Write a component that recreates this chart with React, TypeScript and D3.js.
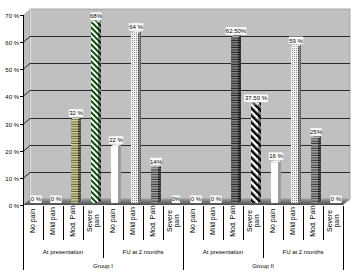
import React from 'react';
import * as d3 from 'd3';

const painLevels = ['No pain', 'Mild pain', 'Mod. Pain', 'Severe pain'];
const timepoints = ['At presentation', 'FU at 2 months'];
const groups = ['Group I', 'Group II'];
const groupIPresentation = [0, 0, 32, 68];
const groupIFollowUp = [22, 64, 14, 0];
const groupIIPresentation = [0, 0, 62.5, 37.5];
const groupIIFollowUp = [16, 59, 25, 0];
const valueLabels = ['0 %', '0 %', '32 %', '68%', '22 %', '64 %', '14%', '0%', '0 %', '0 %', '62.50%', '37.50 %', '16 %', '59 %', '25%', '0 %'];
const yTicks = [0, 10, 20, 30, 40, 50, 60, 70];
const yTickLabels = ['0 %', '10 %', '20 %', '30 %', '40 %', '50 %', '60 %', '70 %'];

// fill style for each series (by pain level)
const seriesFills = [
  ['none', 'none', 'olive', 'green'],
  ['white', 'dots', 'gray', 'none'],
  ['none', 'none', 'dark', 'black'],
  ['white', 'dots', 'gray', 'none'],
];

const W = 356, H = 272;
const X0 = 23, X1 = 343;
const DX = 7, DY = -6;
const FLOOR_Y = 205;

export default function App() {
  const series = [groupIPresentation, groupIFollowUp, groupIIPresentation, groupIIFollowUp];
  const values = series.flat();
  const fills = seriesFills.flat();
  const idx = d3.range(values.length);
  const x = d3.scaleBand<number>().domain(idx).range([X0, X1]);
  const yF = d3.scaleLinear().domain([0, 70]).range([FLOOR_Y, 15]);
  const yBar = d3.scaleLinear().domain([0, 70]).range([205.5, 17]);
  const bw = x.bandwidth();
  const font = 'Liberation Sans, Arial, sans-serif';

  const catLabels = groups.flatMap(() => timepoints.flatMap(() => painLevels));

  return (
    <svg width={W} height={H} style={{ position: 'absolute', left: 0, top: 0, background: '#fff' }} fontFamily={font}>
      <defs>
        <pattern id="olive" patternUnits="userSpaceOnUse" width="4" height="2.4">
          <rect width="4" height="2.4" fill="#d6d6a4" />
          <rect y="1.4" width="4" height="1" fill="#5a5a30" />
        </pattern>
        <pattern id="green" patternUnits="userSpaceOnUse" width="4" height="4" patternTransform="rotate(-45)">
          <rect width="4" height="4" fill="#ffffff" />
          <rect width="2" height="4" fill="#0b4a0b" />
        </pattern>
        <pattern id="black" patternUnits="userSpaceOnUse" width="5" height="5" patternTransform="rotate(-45)">
          <rect width="5" height="5" fill="#ffffff" />
          <rect width="2.5" height="5" fill="#000000" />
        </pattern>
        <pattern id="dots" patternUnits="userSpaceOnUse" width="2" height="2">
          <rect width="2" height="2" fill="#f4f4f4" />
          <rect width="1" height="1" fill="#8a8a8a" />
        </pattern>
        <pattern id="gray" patternUnits="userSpaceOnUse" width="4" height="2.4">
          <rect width="4" height="2.4" fill="#a8a8a8" />
          <rect y="1.4" width="4" height="1" fill="#303030" />
        </pattern>
        <pattern id="dark" patternUnits="userSpaceOnUse" width="4" height="2.4">
          <rect width="4" height="2.4" fill="#8a8a8a" />
          <rect y="1.4" width="4" height="1" fill="#202020" />
        </pattern>
        <pattern id="white" patternUnits="userSpaceOnUse" width="4" height="4">
          <rect width="4" height="4" fill="#ffffff" />
        </pattern>
        <linearGradient id="floorGrad" x1="0" y1="0" x2="0" y2="1">
          <stop offset="0" stopColor="#9a9a9a" />
          <stop offset="1" stopColor="#4a4a4a" />
        </linearGradient>
      </defs>

      {/* side wall */}
      <polygon points={`${X0},${yF(70)} ${X0 + DX},${yF(70) + DY} ${X0 + DX},${FLOOR_Y + DY} ${X0},${FLOOR_Y}`} fill="#bdbdbd" />
      {/* back wall */}
      <rect x={X0 + DX} y={yF(70) + DY} width={X1 + DX - (X0 + DX)} height={FLOOR_Y - yF(70)} fill="#c0c0c0" stroke="#9a9a9a" strokeWidth={0.8} />
      <line x1={X0 + DX + 0.5} x2={X0 + DX + 0.5} y1={yF(70) + DY} y2={FLOOR_Y + DY} stroke="#e0e0e0" strokeWidth={1} />

      {/* gridlines */}
      {yTicks.filter(t => t > 0 && t < 70).map(t => {
        const yy = Math.round(yF(t)) + 0.5;
        return (
          <g key={t}>
            <line x1={X0} y1={yy} x2={X0 + DX} y2={yy + DY} stroke="#2a2a2a" strokeWidth={1} />
            <line x1={X0 + DX} y1={yy + DY} x2={X1 + DX} y2={yy + DY} stroke="#2a2a2a" strokeWidth={1} />
          </g>
        );
      })}

      {/* floor */}
      <polygon points={`${X0},${FLOOR_Y} ${X0 + DX},${FLOOR_Y + DY} ${X1 + DX},${FLOOR_Y + DY} ${X1},${FLOOR_Y}`} fill="url(#floorGrad)" />
      <polygon points={`${X1},${FLOOR_Y} ${X1 + DX},${FLOOR_Y + DY} ${X1 + DX},${FLOOR_Y + DY + 1.5}`} fill="#d0d0d0" />

      {/* bars */}
      {idx.map(i => {
        const v = values[i];
        const f = fills[i];
        if (v <= 0 || f === 'none') return null;
        const L = (x(i) as number) + 8;
        const bwid = 7;
        const top = yBar(v);
        const base = 203;
        const sideFill = f === 'white' ? '#9c9c9c' : `url(#${f})`;
        return (
          <g key={i}>
            <rect x={L} y={top} width={bwid} height={base - top} fill={`url(#${f})`} />
            <polygon points={`${L + bwid},${top} ${L + bwid + 3},${top - 2} ${L + bwid + 3},${base - 2} ${L + bwid},${base}`} fill={sideFill} />
            {f !== 'white' && (
              <polygon points={`${L + bwid},${top} ${L + bwid + 3},${top - 2} ${L + bwid + 3},${base - 2} ${L + bwid},${base}`} fill="#000" opacity={0.45} />
            )}
            <polygon points={`${L},${top} ${L + 3},${top - 2} ${L + bwid + 3},${top - 2} ${L + bwid},${top}`} fill={f === 'white' ? '#e8e8e8' : `url(#${f})`} />
            <polygon points={`${L},${top} ${L + 3},${top - 2} ${L + bwid + 3},${top - 2} ${L + bwid},${top}`} fill="#fff" opacity={0.3} />
          </g>
        );
      })}

      {/* value labels */}
      {idx.map(i => {
        const L = (x(i) as number) + 8;
        const cx = L + 5;
        const top = yBar(values[i]);
        const bottom = top - 2.5;
        const txt = valueLabels[i];
        const w = txt.length * 3.1 + 2;
        return (
          <g key={'l' + i}>
            <rect x={cx - w / 2} y={bottom - 7.5} width={w} height={7.5} fill="#fff" />
            <text x={cx} y={bottom - 1.6} fontSize={6} textAnchor="middle" fill="#000">{txt}</text>
          </g>
        );
      })}

      {/* y axis */}
      <line x1={X0 + 0.5} x2={X0 + 0.5} y1={yF(70)} y2={270} stroke="#000" strokeWidth={1} />
      {yTicks.map((t, k) => {
        const yy = Math.round(yF(t)) + 0.5;
        return (
          <g key={'t' + t}>
            <line x1={X0 - 3} x2={X0} y1={yy} y2={yy} stroke="#000" strokeWidth={1} />
            <text x={X0 - 4} y={yy + 2} fontSize={6} textAnchor="end" fill="#000">{yTickLabels[k]}</text>
          </g>
        );
      })}

      {/* category table */}
      {d3.range(1, values.length + 1).map(k => {
        const xx = Math.round(X0 + k * bw) + 0.5;
        const len = k % 8 === 0 ? 270 : k % 4 === 0 ? 258 : 240;
        return <line key={'v' + k} x1={xx} x2={xx} y1={FLOOR_Y + 1} y2={len} stroke="#000" strokeWidth={1} />;
      })}
      {idx.map(i => {
        const cx = (x(i) as number) + bw / 2;
        const lab = catLabels[i];
        const parts = lab === 'Severe pain' ? ['Severe', 'pain'] : [lab];
        return (
          <text key={'c' + i} transform={`translate(${cx},221) rotate(-90)`} fontSize={7} textAnchor="middle" fill="#000">
            {parts.length === 1 ? (
              <tspan x={0} y={2.3}>{parts[0]}</tspan>
            ) : (
              <>
                <tspan x={0} y={-1.5}>{parts[0]}</tspan>
                <tspan x={0} y={5.5}>{parts[1]}</tspan>
              </>
            )}
          </text>
        );
      })}
      {groups.flatMap((g, gi) => timepoints.map((tp, ti) => {
        const cx = X0 + (gi * 8 + ti * 4 + 2) * bw;
        return <text key={'tp' + gi + ti} x={cx} y={254} fontSize={6} textAnchor="middle" fill="#000">{tp}</text>;
      }))}
      {groups.map((g, gi) => {
        const cx = X0 + (gi * 8 + 4) * bw;
        return <text key={'g' + gi} x={cx} y={268} fontSize={6} textAnchor="middle" fill="#000">{g}</text>;
      })}
    </svg>
  );
}
